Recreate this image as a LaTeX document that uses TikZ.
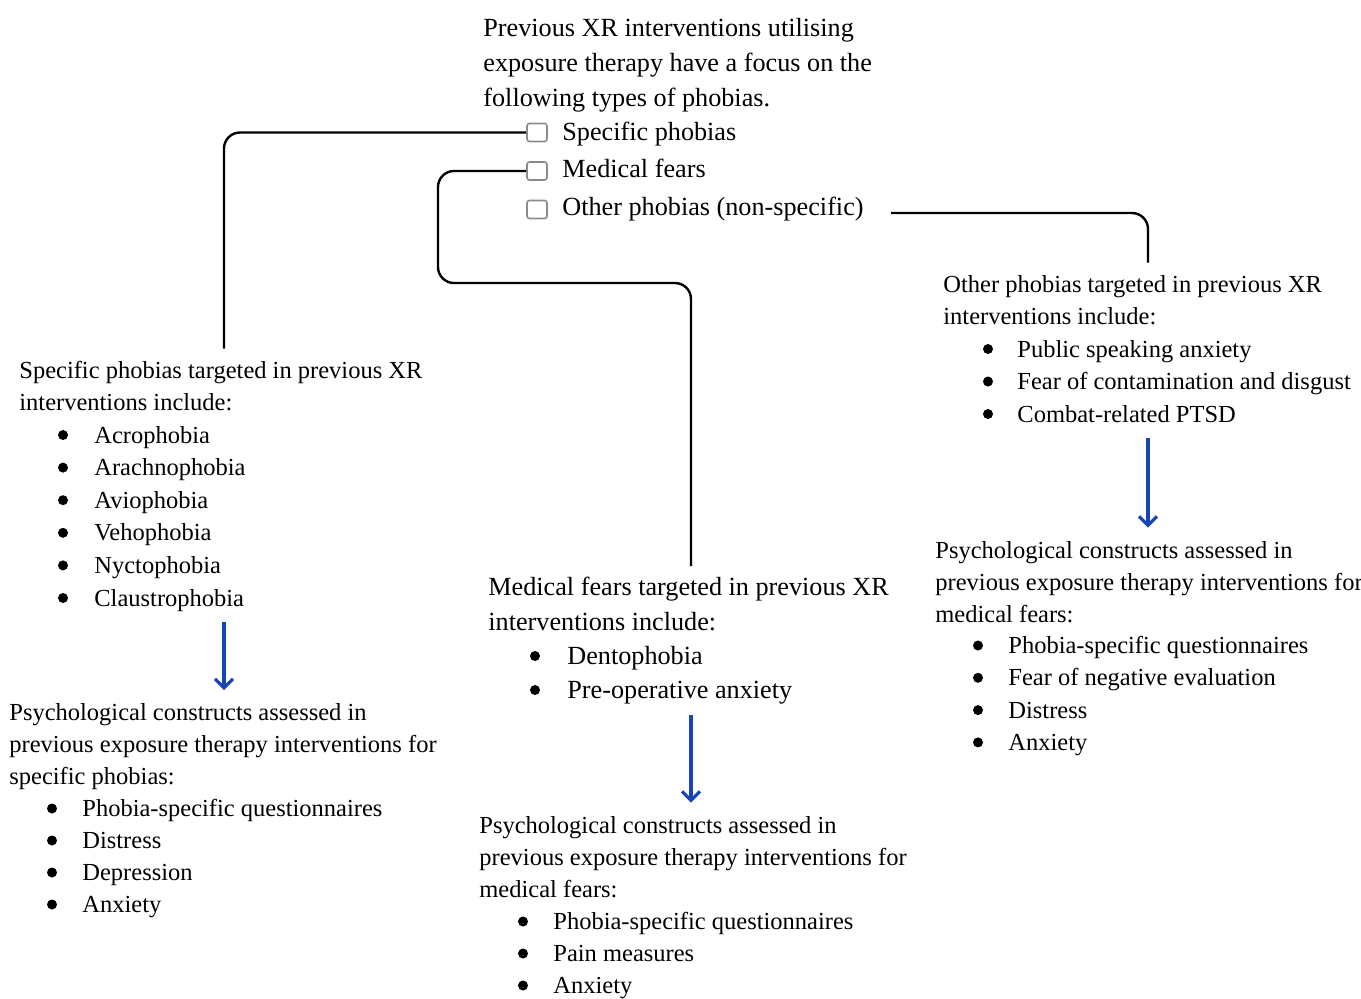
\documentclass[tikz,border=0pt]{standalone}
\usepackage{fontspec}
\setmainfont{Liberation Serif}
\usetikzlibrary{arrows.meta}
\definecolor{flowblue}{RGB}{24,68,185}

\begin{document}
\begin{tikzpicture}[x=0.5pt,y=-0.5pt,
txt/.style={%
anchor=base west,
inner sep=0pt,
text height=8.5pt,
text depth=3pt,
font=\fontsize{12.25}{14}\selectfont
},
big/.style={%
txt,
font=\fontsize{13.1}{15}\selectfont
},
dot/.style={%
circle,
fill,
inner sep=0pt,
minimum size=5pt
},
tick/.style={%
draw=gray!90,
line width=0.8pt,
rounded corners=1.2pt,
minimum width=10pt,
minimum height=9pt,
inner sep=0pt
},
link/.style={%
line width=1.2pt,
rounded corners=8pt,
shorten >=6pt
},
flow/.style={%
draw=flowblue,
line width=1.6pt,
-{Straight Barb[length=4.5pt,width=9pt]},
shorten <=5pt,
shorten >=6.5pt
},
]
\useasboundingbox (0,0) rectangle (1361,998);
%%Top
\node[big] (intro1) at (483,36) {Previous XR interventions utilising};
\node[big] (intro2) at (483,71) {exposure therapy have a focus on the};
\node[big] (intro3) at (483,106) {following types of phobias.};
\node[tick] (cb1) at (537,132.5) {};
\node[tick] (cb2) at (537,171) {};
\node[tick] (cb3) at (537,209.5) {};
\node[big] (cbt1) at (562,140) {Specific phobias};
\node[big] (cbt2) at (562,177) {Medical fears};
\node[big] (cbt3) at (562,215) {Other phobias (non-specific)};
%%Specific phobias
\node[txt] (sph) at (19,378) {Specific phobias targeted in previous XR};
\node[txt] (sph2) at (19,410.5) {interventions include:};
\foreach \t [count=\i from 0] in {Acrophobia,Arachnophobia,Aviophobia,Vehophobia,Nyctophobia,Claustrophobia}{
\node[dot] (sd\i) at (63,435+32.6*\i) {};
\node[txt] (si\i) at (94,443+32.6*\i) {\t};
}
\node[txt] (spc1) at (9,720.5) {Psychological constructs assessed in};
\node[txt] (spc2) at (9,752.5) {previous exposure therapy interventions for};
\node[txt] (spc3) at (9,784.5) {specific phobias:};
\foreach \t [count=\i from 0] in {Phobia-specific questionnaires,Distress,Depression,Anxiety}{
\node[dot] (spd\i) at (52,808.5+32*\i) {};
\node[txt] (spi\i) at (82,816.5+32*\i) {\t};
}
%%Medical fears
\node[big] (mfh) at (488,595.5) {Medical fears targeted in previous XR};
\node[big] (mfh2) at (488,630) {interventions include:};
\node[dot] (md0) at (535,656) {};
\node[big] (mi0) at (567,664.5) {Dentophobia};
\node[dot] (md1) at (535,690) {};
\node[big] (mi1) at (567,698.5) {Pre-operative anxiety};
\node[txt] (mfc1) at (479,833) {Psychological constructs assessed in};
\node[txt] (mfc2) at (479,865) {previous exposure therapy interventions for};
\node[txt] (mfc3) at (479,897) {medical fears:};
\foreach \t [count=\i from 0] in {Phobia-specific questionnaires,Pain measures,Anxiety}{
\node[dot] (mfd\i) at (523,921.5+32*\i) {};
\node[txt] (mfi\i) at (553,929.5+32*\i) {\t};
}
%%Other phobias
\node[txt] (oth) at (943,292) {Other phobias targeted in previous XR};
\node[txt] (oth2) at (943,324.5) {interventions include:};
\foreach \t [count=\i from 0] in {Public speaking anxiety,Fear of contamination and disgust,Combat-related PTSD}{
\node[dot] (od\i) at (988,349+32.5*\i) {};
\node[txt] (oi\i) at (1017,357+32.5*\i) {\t};
}
\node[txt] (otc1) at (935,558) {Psychological constructs assessed in};
\node[txt] (otc2) at (935,590) {previous exposure therapy interventions for};
\node[txt] (otc3) at (935,622) {medical fears:};
\foreach \t [count=\i from 0] in {Phobia-specific questionnaires,Fear of negative evaluation,Distress,Anxiety}{
\node[dot] (otd\i) at (978,645.5+32.3*\i) {};
\node[txt] (oti\i) at (1008,653.5+32.3*\i) {\t};
}
%%Lines
\coordinate (sphx) at (224,0);
\coordinate (mfbend) at (438,283);
\coordinate (mfx) at (691,0);
\coordinate (othstart) at (891,213);
\coordinate (othx) at (1148,0);
\draw[link] (cb1.west) -| (sph.north -| sphx);
\draw[link] (cb2.west) -| (mfbend) -| (mfh.north -| mfx);
\draw[link] (othstart) -| (oth.north -| othx);
%%Arrows
\draw[flow] (si5.south -| sphx) -- (spc1.north -| sphx);
\draw[flow] (mi1.south -| mfx) -- (mfc1.north -| mfx);
\draw[flow] (oi2.south -| othx) -- (otc1.north -| othx);
\end{tikzpicture}
\end{document}
